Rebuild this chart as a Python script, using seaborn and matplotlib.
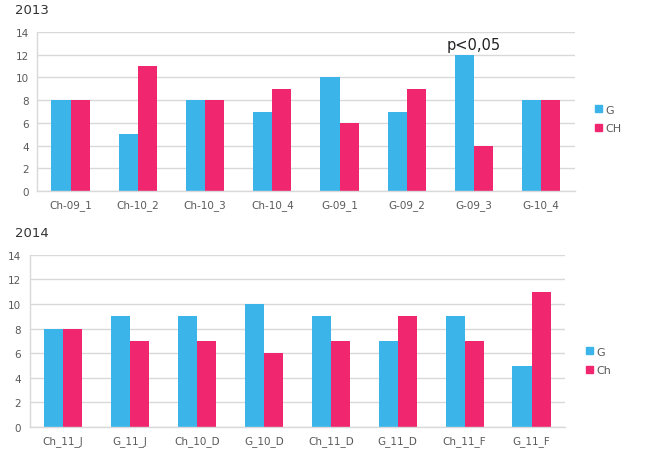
import pandas as pd
import seaborn as sns
import matplotlib.pyplot as plt

# data
labels_2013 = ['Ch-09_1', 'Ch-10_2', 'Ch-10_3', 'Ch-10_4', 'G-09_1', 'G-09_2', 'G-09_3', 'G-10_4']
g_2013 = [8, 5, 8, 7, 10, 7, 12, 8]
ch_2013 = [8, 11, 8, 9, 6, 9, 4, 8]

labels_2014 = ['Ch_11_J', 'G_11_J', 'Ch_10_D', 'G_10_D', 'Ch_11_D', 'G_11_D', 'Ch_11_F', 'G_11_F']
g_2014 = [8, 9, 9, 10, 9, 7, 9, 5]
ch_2014 = [8, 7, 7, 6, 7, 9, 7, 11]

BLUE = '#3BB4EA'
PINK = '#F0266E'
GRID = '#D9D9D9'
TICK = '#595959'


def long_form(labels, g, ch, ch_name):
    df_g = pd.DataFrame({'group': labels, 'value': g, 'series': 'G'})
    df_ch = pd.DataFrame({'group': labels, 'value': ch, 'series': ch_name})
    return pd.concat([df_g, df_ch], ignore_index=True)


def draw(ax, df, ch_name, title, legend_xy):
    sns.barplot(data=df, x='group', y='value', hue='series',
                palette={'G': BLUE, ch_name: PINK}, width=0.57, saturation=1,
                linewidth=0, ax=ax, legend=False)
    ax.set_ylim(0, 14)
    ax.set_yticks(range(0, 15, 2))
    ax.set_xlim(-0.5, 7.5)
    ax.set_xlabel('')
    ax.set_ylabel('')
    ax.grid(axis='y', color=GRID, linewidth=1)
    ax.set_axisbelow(True)
    for side in ['top', 'right']:
        ax.spines[side].set_visible(False)
    for side in ['left', 'bottom']:
        ax.spines[side].set_color(GRID)
        ax.spines[side].set_linewidth(1)
    ax.tick_params(axis='both', length=0, labelsize=7.5, colors=TICK, pad=6)
    ax.figure.text(15 / 660, 1 - title[1] / 452, title[0], fontsize=9.5,
                   color='#333333', va='center')
    handles = [plt.Rectangle((0, 0), 1, 1, color=BLUE),
               plt.Rectangle((0, 0), 1, 1, color=PINK)]
    leg = ax.legend(handles, ['G', ch_name], frameon=False, fontsize=8,
                    handlelength=0.6, handleheight=0.6, handletextpad=0.3,
                    labelspacing=0.8, loc='center left',
                    bbox_to_anchor=legend_xy, bbox_transform=ax.figure.transFigure)
    for t in leg.get_texts():
        t.set_color(TICK)


sns.set_style('white')
fig = plt.figure(figsize=(6.6, 4.52), dpi=100)
ax1 = fig.add_axes([0.056, 0.575, 0.815, 0.352])
ax2 = fig.add_axes([0.045, 0.053, 0.811, 0.381])

draw(ax1, long_form(labels_2013, g_2013, ch_2013, 'CH'), 'CH', ('2013', 10), (585 / 660, 1 - 120 / 452))
draw(ax2, long_form(labels_2014, g_2014, ch_2014, 'Ch'), 'Ch', ('2014', 234), (576 / 660, 1 - 362 / 452))

ax1.text(6, 12.25, 'p<0,05', ha='center', va='bottom', fontsize=10.5, color='#222222')

fig.savefig('out.png', dpi=100, facecolor='white')
